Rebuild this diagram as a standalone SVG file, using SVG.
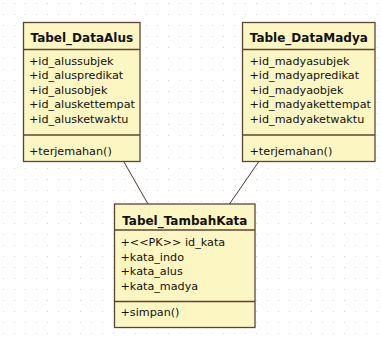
<svg xmlns="http://www.w3.org/2000/svg" width="382" height="338" viewBox="0 0 382 338">
  <defs>
    <pattern id="grid" x="3" y="3" width="11" height="11" patternUnits="userSpaceOnUse">
      <rect x="0" y="0" width="1" height="1" fill="#d6d6d6"/>
    </pattern>
    <style>
      .box { fill: #fcf6c2; stroke: #5b4636; stroke-width: 1.3; }
      .sep { stroke: #5b4636; stroke-width: 1.3; }
      .title { font-family: "DejaVu Sans", Verdana, sans-serif; font-weight: bold; font-size: 12px; fill: #111; text-anchor: middle; }
      .item { font-family: "DejaVu Sans", Verdana, sans-serif; font-size: 11.2px; fill: #111; }
      .link { stroke: #4a3a30; stroke-width: 1; fill: none; }
    </style>
  </defs>

  <!-- canvas with dotted grid -->
  <rect width="382" height="338" fill="#ffffff"/>
  <rect width="382" height="338" fill="url(#grid)"/>

  <!-- associations -->
  <g id="connectors">
    <line class="link" x1="124" y1="162" x2="148" y2="204"/>
    <line class="link" x1="258.5" y1="162" x2="229.5" y2="204"/>
  </g>

  <g id="Tabel_DataAlus">
    <rect class="box" x="23.5" y="22.5" width="116.5" height="139"/>
    <line class="sep" x1="23.5" y1="49.5" x2="140" y2="49.5"/>
    <line class="sep" x1="23.5" y1="135" x2="140" y2="135"/>
    <text class="title" x="81.8" y="41.5">Tabel_DataAlus</text>
    <text class="item" x="29" y="64.5">+id_alussubjek</text>
    <text class="item" x="29" y="79">+id_aluspredikat</text>
    <text class="item" x="29" y="93.5">+id_alusobjek</text>
    <text class="item" x="29" y="108">+id_aluskettempat</text>
    <text class="item" x="29" y="122.5">+id_alusketwaktu</text>
    <text class="item" x="29" y="154.5">+terjemahan()</text>
  </g>

  <g id="Table_DataMadya">
    <rect class="box" x="242.5" y="22.5" width="132.5" height="139"/>
    <line class="sep" x1="242.5" y1="49.5" x2="375" y2="49.5"/>
    <line class="sep" x1="242.5" y1="135" x2="375" y2="135"/>
    <text class="title" x="308.8" y="41.5">Table_DataMadya</text>
    <text class="item" x="249.5" y="64.5">+id_madyasubjek</text>
    <text class="item" x="249.5" y="79">+id_madyapredikat</text>
    <text class="item" x="249.5" y="93.5">+id_madyaobjek</text>
    <text class="item" x="249.5" y="108">+id_madyakettempat</text>
    <text class="item" x="249.5" y="122.5">+id_madyaketwaktu</text>
    <text class="item" x="249.5" y="154.5">+terjemahan()</text>
  </g>

  <g id="Tabel_TambahKata">
    <rect class="box" x="114.5" y="204" width="140.5" height="123.5"/>
    <line class="sep" x1="114.5" y1="230" x2="255" y2="230"/>
    <line class="sep" x1="114.5" y1="301.5" x2="255" y2="301.5"/>
    <text class="title" x="184.8" y="224.5">Tabel_TambahKata</text>
    <text class="item" x="120.5" y="246">+&lt;&lt;PK&gt;&gt; id_kata</text>
    <text class="item" x="120.5" y="260.5">+kata_indo</text>
    <text class="item" x="120.5" y="275">+kata_alus</text>
    <text class="item" x="120.5" y="289.5">+kata_madya</text>
    <text class="item" x="120.5" y="316">+simpan()</text>
  </g>
</svg>
